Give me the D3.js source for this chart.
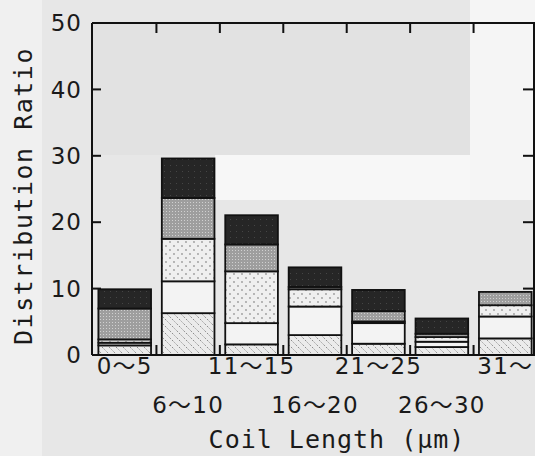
<!DOCTYPE html>
<html><head><meta charset="utf-8">
<script src="https://cdn.jsdelivr.net/npm/d3@7"></script>
<style>body{margin:0;background:#e8e8e8;} svg{display:block}</style>
</head><body><svg id="c" width="535" height="456"></svg>
<script>
// ---- data ----
const categories = ["0〜5","6〜10","11〜15","16〜20","21〜25","26〜30","31〜"];
const hatched    = [1.45, 6.3, 1.6, 3.0, 1.7, 1.2, 2.5];
const plain      = [0.4, 4.8, 3.2, 4.3, 3.1, 0.8, 3.3];
const sparseDots = [0.5, 6.4, 7.8, 2.6, 0.25, 0.7, 1.7];
const denseDots  = [4.65, 6.15, 4.05, 0.35, 1.55, 0.5, 2.0];
const solid      = [2.9, 5.95, 4.4, 2.95, 3.2, 2.3, 0];
const yTicks = [0, 10, 20, 30, 40, 50];
const seriesKeys = ["hatched","plain","sparseDots","denseDots","solid"];
const seriesFill = {hatched:"url(#hatch)", plain:"#f3f3f3", sparseDots:"url(#sdots)", denseDots:"url(#ddots)", solid:"url(#solid)"};

const table = categories.map((c,i)=>({cat:c, hatched:hatched[i], plain:plain[i], sparseDots:sparseDots[i], denseDots:denseDots[i], solid:solid[i]}));

const svg = d3.select("#c");

// ---- background (scanned paper tones) ----
const bg = svg.append("g");
bg.append("rect").attr("x",0).attr("y",0).attr("width",535).attr("height",456).attr("fill","#e7e7e7");
bg.append("rect").attr("x",0).attr("y",0).attr("width",42).attr("height",456).attr("fill","#f0f0f0");
bg.append("rect").attr("x",92).attr("y",23).attr("width",378).attr("height",132).attr("fill","#e2e2e2");
bg.append("rect").attr("x",215).attr("y",155).attr("width",320).attr("height",45).attr("fill","#f7f7f7");
bg.append("rect").attr("x",470).attr("y",0).attr("width",65).attr("height",200).attr("fill","#f5f5f5");

// ---- patterns ----
const defs = svg.append("defs");
const ph = defs.append("pattern").attr("id","hatch").attr("patternUnits","userSpaceOnUse").attr("width",7).attr("height",7);
ph.append("rect").attr("width",7).attr("height",7).attr("fill","#ebebeb");
ph.append("path").attr("d","M-1,-1L8,8M-1,6L1,8M6,-1L8,1").attr("stroke","#8c8c8c").attr("stroke-width",1).attr("stroke-dasharray","2,1.5");

const ps = defs.append("pattern").attr("id","sdots").attr("patternUnits","userSpaceOnUse").attr("width",8).attr("height",8);
ps.append("rect").attr("width",8).attr("height",8).attr("fill","#efefef");
ps.append("circle").attr("cx",2).attr("cy",2).attr("r",0.9).attr("fill","#9a9a9a");
ps.append("circle").attr("cx",6).attr("cy",6).attr("r",0.9).attr("fill","#9a9a9a");

const pd = defs.append("pattern").attr("id","ddots").attr("patternUnits","userSpaceOnUse").attr("width",3).attr("height",3);
pd.append("rect").attr("width",3).attr("height",3).attr("fill","#9e9e9e");
pd.append("rect").attr("x",1).attr("y",1).attr("width",1).attr("height",1).attr("fill","#d0d0d0");

const pk = defs.append("pattern").attr("id","solid").attr("patternUnits","userSpaceOnUse").attr("width",6).attr("height",6);
pk.append("rect").attr("width",6).attr("height",6).attr("fill","#262626");
pk.append("rect").attr("x",2).attr("y",3).attr("width",1).attr("height",1).attr("fill","#454545");

// ---- scales ----
const x = d3.scaleBand().domain(categories).range([93,537]).paddingInner(0.17).paddingOuter(0.085);
const y = d3.scaleLinear().domain([0,50]).range([355,23]);

// ---- bars ----
const stacked = d3.stack().keys(seriesKeys)(table);
const bars = svg.append("g");
stacked.forEach(layer=>{
  bars.append("g").selectAll("rect").data(layer.filter(d=>d[1]-d[0]>0)).join("rect")
    .attr("x",d=>x(d.data.cat))
    .attr("width",x.bandwidth())
    .attr("y",d=>y(d[1]))
    .attr("height",d=>y(d[0])-y(d[1]))
    .attr("fill",seriesFill[layer.key])
    .attr("stroke","#111").attr("stroke-width",1.8);
});

// ---- frame and ticks ----
const ax = svg.append("g").attr("stroke","#111").attr("stroke-width",2);
const L=92, R=534, T=23, B=355;
ax.append("line").attr("x1",L).attr("x2",L).attr("y1",T).attr("y2",B);
ax.append("line").attr("x1",R).attr("x2",R).attr("y1",T).attr("y2",B);
ax.append("line").attr("x1",L).attr("x2",535).attr("y1",T).attr("y2",T);
ax.append("line").attr("x1",L).attr("x2",535).attr("y1",B).attr("y2",B);
yTicks.slice(1,-1).forEach(v=>{
  ax.append("line").attr("x1",L).attr("x2",L+9).attr("y1",y(v)).attr("y2",y(v));
  ax.append("line").attr("x1",R).attr("x2",R-11).attr("y1",y(v)).attr("y2",y(v));
});
const step = x.step();
categories.slice(1).forEach(c=>{
  const bx = x(c) - (step - x.bandwidth())/2;
  ax.append("line").attr("x1",bx).attr("x2",bx).attr("y1",T).attr("y2",T+10);
  ax.append("line").attr("x1",bx).attr("x2",bx).attr("y1",B).attr("y2",B-10);
});

// ---- labels ----
const lab = svg.append("g").attr("fill","#1a1a1a");
lab.selectAll("text.yt").data(yTicks).join("text").attr("class","yt")
  .attr("x",82).attr("y",d=>y(d)).attr("dy","0.36em")
  .attr("text-anchor","end")
  .style("font-family","'DejaVu Sans', sans-serif").style("font-size","23px").style("letter-spacing","1px")
  .text(d=>d);

lab.selectAll("text.xt").data(categories).join("text").attr("class","xt")
  .attr("x",d=>x(d)+x.bandwidth()/2)
  .attr("y",(d,i)=> i%2===0 ? 374 : 413)
  .attr("text-anchor","middle")
  .style("font-family","'DejaVu Sans', 'Noto Sans CJK JP', sans-serif").style("font-size","23px").style("letter-spacing","1.2px")
  .text(d=>d);

lab.append("text").attr("transform","translate(32,196) rotate(-90)")
  .attr("text-anchor","middle")
  .style("font-family","'DejaVu Sans Mono', monospace").style("font-size","25px").style("letter-spacing","1.5px")
  .text("Distribution Ratio");

lab.append("text").attr("x",337).attr("y",448)
  .attr("text-anchor","middle")
  .style("font-family","'DejaVu Sans Mono', monospace").style("font-size","25px").style("letter-spacing","1px")
  .text("Coil Length (μm)");
</script>
</body></html>
